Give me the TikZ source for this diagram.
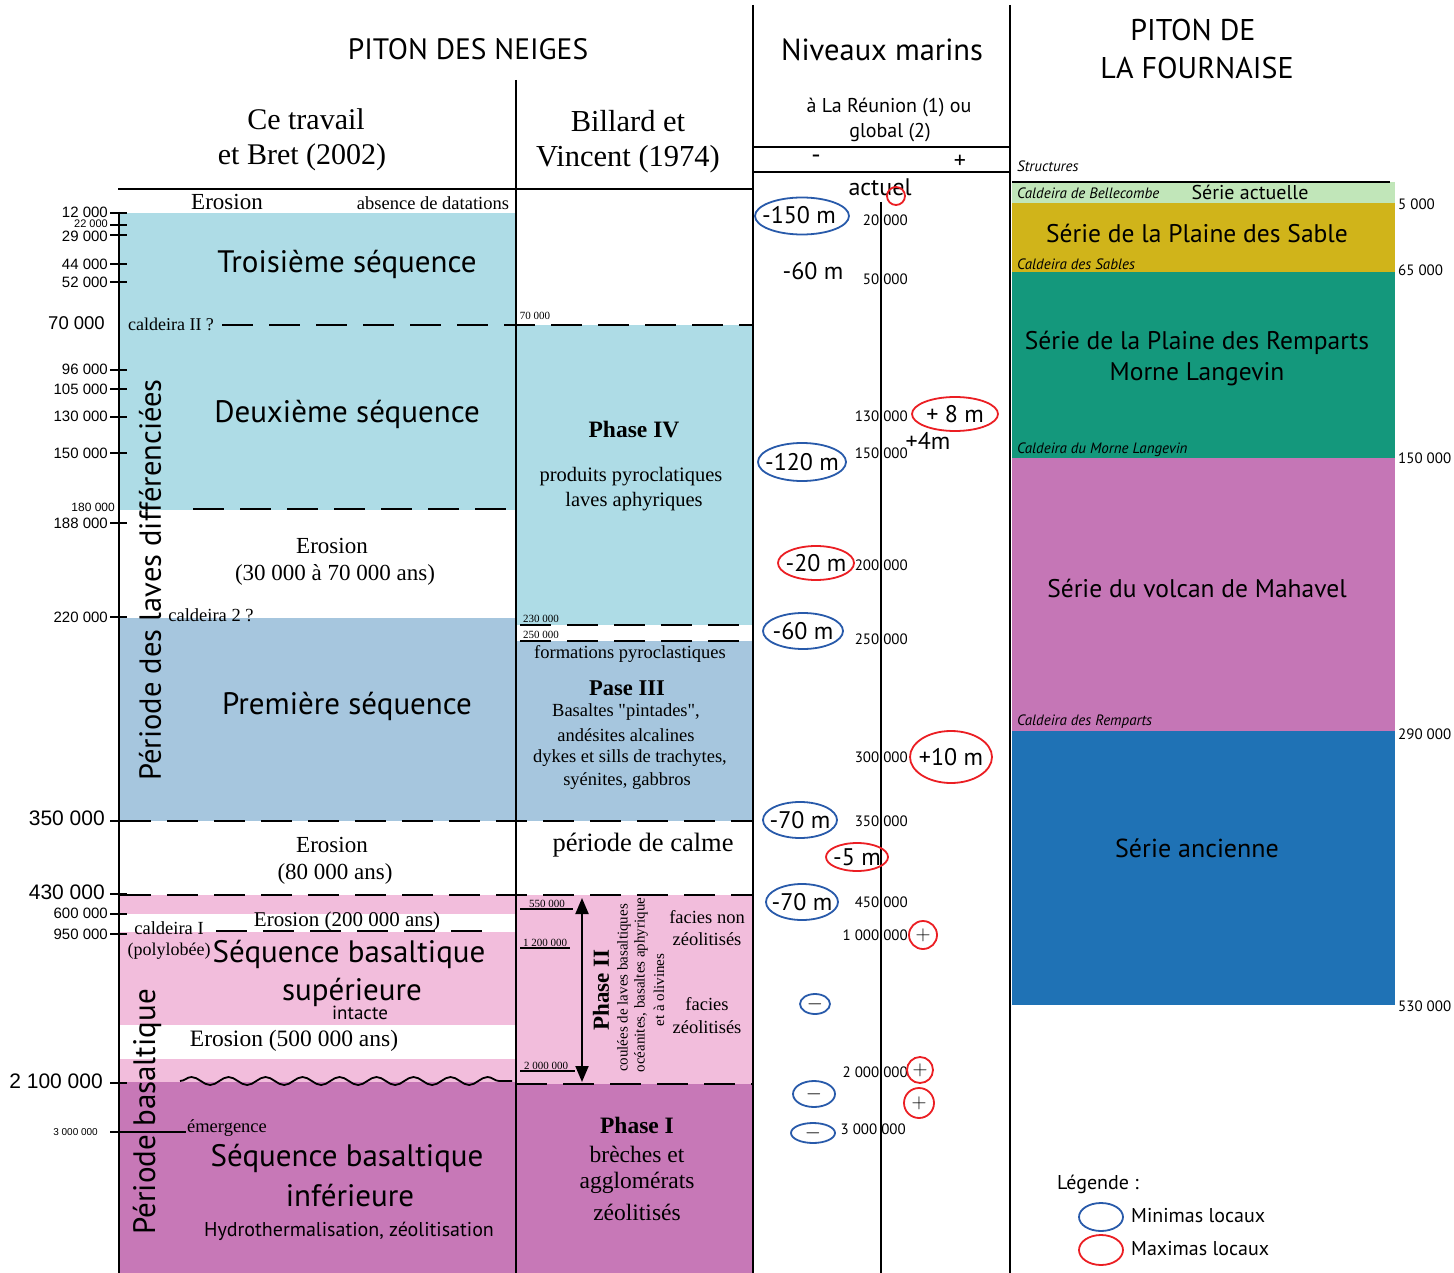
\documentclass[tikz,border=0pt]{standalone}
\usepackage{fontspec}
\setmainfont{Liberation Serif}
\newfontfamily\myr{PT Sans}
\newfontfamily\ari{Liberation Sans}
\usetikzlibrary{shapes.geometric,decorations.pathmorphing,arrows.meta}
\definecolor{cyanA}{RGB}{174,220,230}
\definecolor{steelA}{RGB}{166,198,222}
\definecolor{pinkA}{RGB}{242,189,220}
\definecolor{magA}{RGB}{199,120,183}
\definecolor{greenF}{RGB}{193,230,185}
\definecolor{goldF}{RGB}{208,180,26}
\definecolor{tealF}{RGB}{20,152,124}
\definecolor{orchF}{RGB}{197,118,182}
\definecolor{blueF}{RGB}{31,114,181}
\definecolor{ellB}{RGB}{40,90,170}
\definecolor{ellR}{RGB}{235,30,35}
\tikzset{
 S/.style={font=\myr\fontsize{#1}{#1}\selectfont, inner sep=0pt},
 SI/.style={font=\myr\itshape\fontsize{#1}{#1}\selectfont, inner sep=0pt},
 R/.style={font=\fontsize{#1}{#1}\selectfont, inner sep=0pt},
 RB/.style={font=\bfseries\fontsize{#1}{#1}\selectfont, inner sep=0pt},
 A/.style={font=\ari\fontsize{#1}{#1}\selectfont, inner sep=0pt},
 rule/.style={line width=2pt},
 dsh/.style={line width=2.6pt, dash pattern=on 31pt off 16pt},
 tickmark/.style={line width=1.8pt},
 minE/.style={ellipse, draw=ellB, line width=1.8pt, inner sep=0pt},
 maxE/.style={ellipse, draw=ellR, line width=1.8pt, inner sep=0pt},
}
\begin{document}
\begin{tikzpicture}[x=1pt,y=-1pt]
\useasboundingbox (0,0) rectangle (1454,1273);
\fill[white] (0,0) rectangle (1454,1273);
% ---------- fills, left column
\fill[cyanA] (120,213) rectangle (515,510);
\fill[steelA] (120,618) rectangle (515,821);
\fill[pinkA] (120,895) rectangle (515,1082);
\fill[white] (120,914) rectangle (515,932);
\fill[white] (120,1025) rectangle (515,1059);
\fill[magA] (120,1082) rectangle (515,1273);
% ---------- fills, Billard column
\fill[cyanA] (517,325) rectangle (752,625);
\fill[steelA] (517,641) rectangle (752,821);
\fill[pinkA] (517,895) rectangle (752,1084);
\fill[magA] (517,1084) rectangle (752,1273);
% ---------- fills, Fournaise
\fill[greenF] (1012,182) rectangle (1395,203);
\fill[goldF] (1012,203) rectangle (1395,272);
\fill[tealF] (1012,272) rectangle (1395,458);
\fill[orchF] (1012,458) rectangle (1395,731);
\fill[blueF] (1012,731) rectangle (1395,1005);
% ---------- frame lines
\draw[rule] (118,189) -- (753,189);
\draw[rule] (119,212) -- (119,1273);
\draw[rule] (516,80) -- (516,1273);
\draw[rule] (753,5) -- (753,1273);
\draw[rule] (1010,5) -- (1010,1273);
\draw[rule] (753,147) -- (1010,147);
\draw[rule] (753,172) -- (1010,172);
\draw[rule] (881,202) -- (881,1273);
\draw[line width=1.5pt] (1012,182) -- (1390,182);
% ---------- dashed limits
\draw[dsh] (222,325) -- (752,325);
\draw[dsh] (193,509) -- (515,509);
\draw[dsh] (520,625) -- (752,625);
\draw[dsh] (520,641) -- (752,641);
\draw[dsh] (120,821) -- (752,821);
\draw[dsh] (120,895) -- (752,895);
\draw[dsh] (516,1084) -- (752,1084);
\draw[dsh] (216,931) -- (485,931);
\draw[line width=1.8pt, decorate, decoration={snake,amplitude=4pt,segment length=37pt}] (180,1081) -- (512,1081);
% ---------- ticks
\foreach \yy in {213,225,235,264,282,370,389,417,453,523,617,821,894,914,934,1083}
  \draw[tickmark] (110,\yy) -- (127,\yy);
\draw[tickmark] (110,1132) -- (186,1132);
% ---------- axis labels
\node[A=15, anchor=east] (l12) at (108,212) {12 000};
\node[A=11, anchor=east] (l22) at (108,224) {22 000};
\node[A=15, anchor=east] (l29) at (108,236) {29 000};
\node[A=15, anchor=east] (l44) at (108,264) {44 000};
\node[A=15, anchor=east] (l52) at (108,282) {52 000};
\node[A=18.5, anchor=east] (l70) at (105,323) {70 000};
\node[A=15, anchor=east] (l96) at (108,369) {96 000};
\node[A=15, anchor=east] (l105) at (108,389) {105 000};
\node[A=15, anchor=east] (l130) at (108,416) {130 000};
\node[A=15, anchor=east] (l150) at (108,453) {150 000};
\node[A=12, anchor=east] (l180) at (115,507) {180 000};
\node[A=15, anchor=east] (l188) at (108,523) {188 000};
\node[A=15, anchor=east] (l220) at (108,617) {220 000};
\node[A=21, anchor=east] (l350) at (105,818) {350 000};
\node[A=21, anchor=east] (l430) at (105,892) {430 000};
\node[A=15, anchor=east] (l600) at (108,913) {600 000};
\node[A=15, anchor=east] (l950) at (108,934) {950 000};
\node[A=21, anchor=east] (l2100) at (103,1081) {2 100 000};
\node[A=10, anchor=east] (l3000) at (98,1132) {3 000 000};
% ---------- period labels
\node[S=30.5, rotate=90] (pdiff) at (150,580) {Période des laves différenciées};
\node[S=31, rotate=90] (pbas) at (147,1112) {Période basaltique};
% ---------- headers
\node[S=29.5] (hpn) at (468,49) {PITON DES NEIGES};
\node[R=30] (hct1) at (306,119) {Ce travail};
\node[R=30] (hct2) at (302,157) {et Bret (2002)};
\node[R=30.5] (hbv1) at (628,121) {Billard et};
\node[R=30.5] (hbv2) at (628,159) {Vincent (1974)};
\node[S=30.5] (hnm) at (882,50) {Niveaux marins};
\node[S=20] (hnm2) at (889,108) {à La Réunion (1) ou};
\node[S=20] (hnm3) at (890,133) {global (2)};
\node[S=26] (hminus) at (816,159) {-};
\node[S=24] (hplus) at (960,162) {+};
\node[S=30] (hpf1) at (1193,30) {PITON DE};
\node[S=30] (hpf2) at (1197,68) {LA FOURNAISE};
% ---------- left column texts
\node[R=23] (t1) at (227,202) {Erosion};
\node[R=18.5] (t2) at (433,203) {absence de datations};
\node[S=31] (t3) at (347,264) {Troisième séquence};
\node[R=18] (t4) at (171,324) {caldeira II ?};
\node[S=31] (t5) at (347,414) {Deuxième séquence};
\node[R=23] (t6) at (332,546) {Erosion};
\node[R=23] (t7) at (335,575) {(30 000 à 70 000 ans)};
\node[R=18.5] (t8) at (211,615) {caldeira 2 ?};
\node[S=31] (t9) at (347,706) {Première séquence};
\node[R=23] (t10) at (332,845) {Erosion};
\node[R=23] (t11) at (335,874) {(80 000 ans)};
\node[R=18.5] (t12) at (169,928) {caldeira I};
\node[R=21] (t13) at (347,921) {Erosion (200 000 ans)};
\node[R=18] (t14) at (169,951) {(polylobée)};
\node[S=31] (t15) at (349,954) {Séquence basaltique};
\node[S=31] (t16) at (352,992) {supérieure};
\node[S=19] (t17) at (360,1013) {intacte};
\node[R=23.5] (t18) at (294,1041) {Erosion (500 000 ans)};
\node[R=18.5] (t19) at (227,1128) {émergence};
\node[S=31] (t20) at (347,1158) {Séquence basaltique};
\node[S=31] (t21) at (350,1196) {inférieure};
\node[S=20] (t22) at (349,1231) {Hydrothermalisation, zéolitisation};
% ---------- Billard column
\node[R=11] (b1) at (535,316) {70 000};
\node[RB=23.5] (b2) at (634,430) {Phase IV};
\node[R=20.5] (b3) at (631,477) {produits pyroclatiques};
\node[R=20.5] (b4) at (634,502) {laves aphyriques};
\node[R=11] (b5) at (541,619) {230 000};
\node[R=11] (b6) at (541,635) {250 000};
\node[R=18.5] (b7) at (630,654) {formations pyroclastiques};
\node[RB=22.5] (b8) at (627,688) {Pase III};
\node[R=18.5] (b9) at (626,712) {Basaltes \textquotedbl pintades\textquotedbl,};
\node[R=18.5] (b10) at (626,735) {andésites alcalines};
\node[R=18.5] (b11) at (630,758) {dykes et sills de trachytes,};
\node[R=18.5] (b12) at (627,781) {syénites, gabbros};
\node[R=26.5] (b13) at (643,845) {période de calme};
\node[R=11] (b14) at (547,904) {550 000};
\node[R=11] (b15) at (545,943) {1 200 000};
\node[R=11] (b16) at (546,1066) {2 000 000};
\draw[line width=1.2pt] (520,909) -- (573,909);
\draw[line width=1.2pt] (520,948) -- (570,948);
\draw[line width=1.2pt] (520,1071) -- (575,1071);
\coordinate (arT) at (582,898);
\coordinate (arB) at (582,1082);
\draw[line width=2pt, {Triangle[length=16pt,width=13pt]}-{Triangle[length=16pt,width=13pt]}] (arT) -- (arB);
\node[RB=23, rotate=90] (b17) at (601,990) {Phase II};
\node[R=15, rotate=90] (b18) at (624,988) {coulées de laves basaltiques};
\node[R=15, rotate=90] (b19) at (641,985) {océanites, basaltes aphyrique};
\node[R=15, rotate=90] (b20) at (659,990) {et à olivines};
\node[R=18.5] (b21) at (707,917) {facies non};
\node[R=18.5] (b22) at (707,939) {zéolitisés};
\node[R=18.5] (b23) at (707,1004) {facies};
\node[R=18.5] (b24) at (707,1027) {zéolitisés};
\node[RB=23.5] (b25) at (637,1125) {Phase I};
\node[R=23.5] (b26) at (637,1154) {brèches et};
\node[R=23.5] (b27) at (637,1183) {agglomérats};
\node[R=23.5] (b28) at (637,1212) {zéolitisés};
% ---------- sea levels
\node[S=24] (m0) at (880,187) {actuel};
\node[maxE, minimum width=18, minimum height=18] (c0) at (896,196) {};
\node[S=15, anchor=east] (n1) at (908,220) {20 000};
\node[S=15, anchor=east] (n2) at (908,279) {50 000};
\node[S=15, anchor=east] (n3) at (908,416) {130 000};
\node[S=15, anchor=east] (n4) at (908,453) {150 000};
\node[S=15, anchor=east] (n5) at (908,565) {200 000};
\node[S=15, anchor=east] (n6) at (908,639) {250 000};
\node[S=15, anchor=east] (n7) at (908,757) {300 000};
\node[S=15, anchor=east] (n8) at (908,821) {350 000};
\node[S=15, anchor=east] (n9) at (908,902) {450 000};
\node[S=15, anchor=east] (n10) at (908,935) {1 000 000};
\node[S=15, anchor=east] (n11) at (908,1072) {2 000 000};
\node[S=15, anchor=east] (n12) at (906,1129) {3 000 000};
\node[minE, minimum width=94, minimum height=37] (e1) at (802,216) {};
\node[S=24] (e1t) at (799,215) {-150 m};
\node[S=24] (m1) at (813,271) {-60 m};
\node[maxE, minimum width=86, minimum height=34] (e2) at (955,414) {};
\node[S=24] (e2t) at (e2.center) {+ 8 m};
\node[S=24] (m2) at (928,441) {+4m};
\node[minE, minimum width=88, minimum height=38] (e3) at (802,462) {};
\node[S=24] (e3t) at (e3.center) {-120 m};
\node[maxE, minimum width=76, minimum height=34] (e4) at (816,563) {};
\node[S=24] (e4t) at (e4.center) {-20 m};
\node[minE, minimum width=80, minimum height=36] (e5) at (803,631) {};
\node[S=24] (e5t) at (e5.center) {-60 m};
\node[maxE, minimum width=82, minimum height=52] (e6) at (951,757) {};
\node[S=24] (e6t) at (e6.center) {+10 m};
\node[minE, minimum width=74, minimum height=36] (e7) at (800,820) {};
\node[S=24] (e7t) at (e7.center) {-70 m};
\node[maxE, minimum width=62, minimum height=28] (e8) at (857,857) {};
\node[S=24] (e8t) at (e8.center) {-5 m};
\node[minE, minimum width=72, minimum height=36] (e9) at (802,902) {};
\node[S=24] (e9t) at (e9.center) {-70 m};
\node[maxE, minimum width=28, minimum height=28, font=\fontsize{22}{22}\selectfont] (e10) at (923,935) {$+$};
\node[minE, minimum width=30, minimum height=20, font=\fontsize{20}{20}\selectfont] (e11) at (815,1004) {$-$};
\node[maxE, minimum width=26, minimum height=26, font=\fontsize{22}{22}\selectfont] (e12) at (920,1070) {$+$};
\node[minE, minimum width=42, minimum height=26, font=\fontsize{20}{20}\selectfont] (e13) at (814,1094) {$-$};
\node[maxE, minimum width=30, minimum height=30, font=\fontsize{22}{22}\selectfont] (e14) at (919,1103) {$+$};
\node[minE, minimum width=44, minimum height=20, font=\fontsize{20}{20}\selectfont] (e15) at (813,1133) {$-$};
% ---------- Fournaise
\node[SI=15, anchor=west] (f0) at (1017,166) {Structures};
\node[SI=15, anchor=west] (f1) at (1017,193) {Caldeira de Bellecombe};
\node[S=20] (f2) at (1250,192) {Série actuelle};
\node[S=25.5] (f3) at (1197,233) {Série de la Plaine des Sable};
\node[SI=15, anchor=west] (f4) at (1017,264) {Caldeira des Sables};
\node[S=25.5] (f5) at (1197,343) {Série de la Plaine des Remparts};
\node[S=25.5] (f6) at (1197,374) {Morne Langevin};
\node[SI=15, anchor=west] (f7) at (1017,450) {Caldeira du Morne Langevin};
\node[S=25.5] (f8) at (1197,588) {Série du volcan de Mahavel};
\node[SI=15, anchor=west] (f9) at (1017,722) {Caldeira des Remparts};
\node[S=26] (f10) at (1197,848) {Série ancienne};
\node[S=15, anchor=west] (g1) at (1398,204) {5 000};
\node[S=15, anchor=west] (g2) at (1398,270) {65 000};
\node[S=15, anchor=west] (g3) at (1398,458) {150 000};
\node[S=15, anchor=west] (g4) at (1398,734) {290 000};
\node[S=15, anchor=west] (g5) at (1398,1006) {530 000};
% ---------- legend
\node[S=20, anchor=west] (lg) at (1057,1184) {Légende :};
\node[minE, minimum width=44, minimum height=28] (lgb) at (1101,1217) {};
\node[S=20, anchor=west] (lgbt) at (1131,1216) {Minimas locaux};
\node[maxE, minimum width=44, minimum height=30] (lgr) at (1101,1250) {};
\node[S=20, anchor=west] (lgrt) at (1131,1249) {Maximas locaux};
\end{tikzpicture}
\end{document}
